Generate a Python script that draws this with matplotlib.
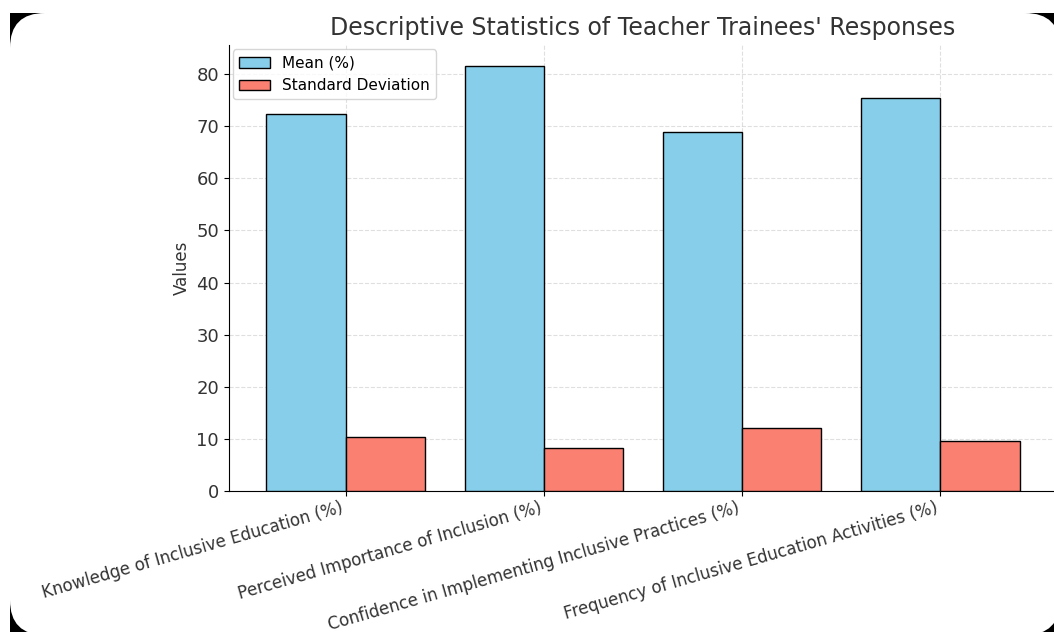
import matplotlib
matplotlib.use("Agg")
import matplotlib.pyplot as plt
import numpy as np
from matplotlib.patches import Rectangle, FancyBboxPatch
from matplotlib.transforms import IdentityTransform


categories = [
    "Knowledge of Inclusive Education (%)",
    "Perceived Importance of Inclusion (%)",
    "Confidence in Implementing Inclusive Practices (%)",
    "Frequency of Inclusive Education Activities (%)",
]
mean_values = [72.4, 81.5, 68.8, 75.3]
std_values = [10.4, 8.3, 12.1, 9.6]

fig = plt.figure(figsize=(10.54, 6.32), dpi=100)

# dark rounded corners of the screen photo
fig.add_artist(Rectangle((10, 0), 1044, 619, transform=IdentityTransform(),
                         facecolor="black", edgecolor="none", zorder=-10))
fig.add_artist(FancyBboxPatch((10, -3), 1050, 622,
                              boxstyle="round,pad=0,rounding_size=35",
                              transform=IdentityTransform(),
                              facecolor="white", edgecolor="none", zorder=-9))

ax = fig.add_axes([0.217, 0.223, 0.786, 0.706])
ax.patch.set_alpha(0)

x = np.arange(len(categories))
width = 0.4
ax.bar(x - width / 2, mean_values, width, label="Mean (%)",
       color="skyblue", edgecolor="black", zorder=3)
ax.bar(x + width / 2, std_values, width, label="Standard Deviation",
       color="salmon", edgecolor="black", zorder=3)

ax.set_title("Descriptive Statistics of Teacher Trainees' Responses",
             fontsize=17, color="#333333", pad=7)
ax.set_ylabel("Values", fontsize=12, color="#333333")
ax.set_xticks(x)
ax.set_xticklabels(categories, rotation=16, ha="right", fontsize=12,
                   color="#333333")
ax.tick_params(axis="x", pad=2)
ax.tick_params(axis="y", labelsize=13, labelcolor="#333333")
ax.grid(True, linestyle="--", alpha=0.4, zorder=0)
ax.spines["top"].set_visible(False)
ax.spines["right"].set_visible(False)
ax.legend(loc="upper left", fontsize=11, borderaxespad=0.3)

fig.savefig("out.png", dpi=100)
